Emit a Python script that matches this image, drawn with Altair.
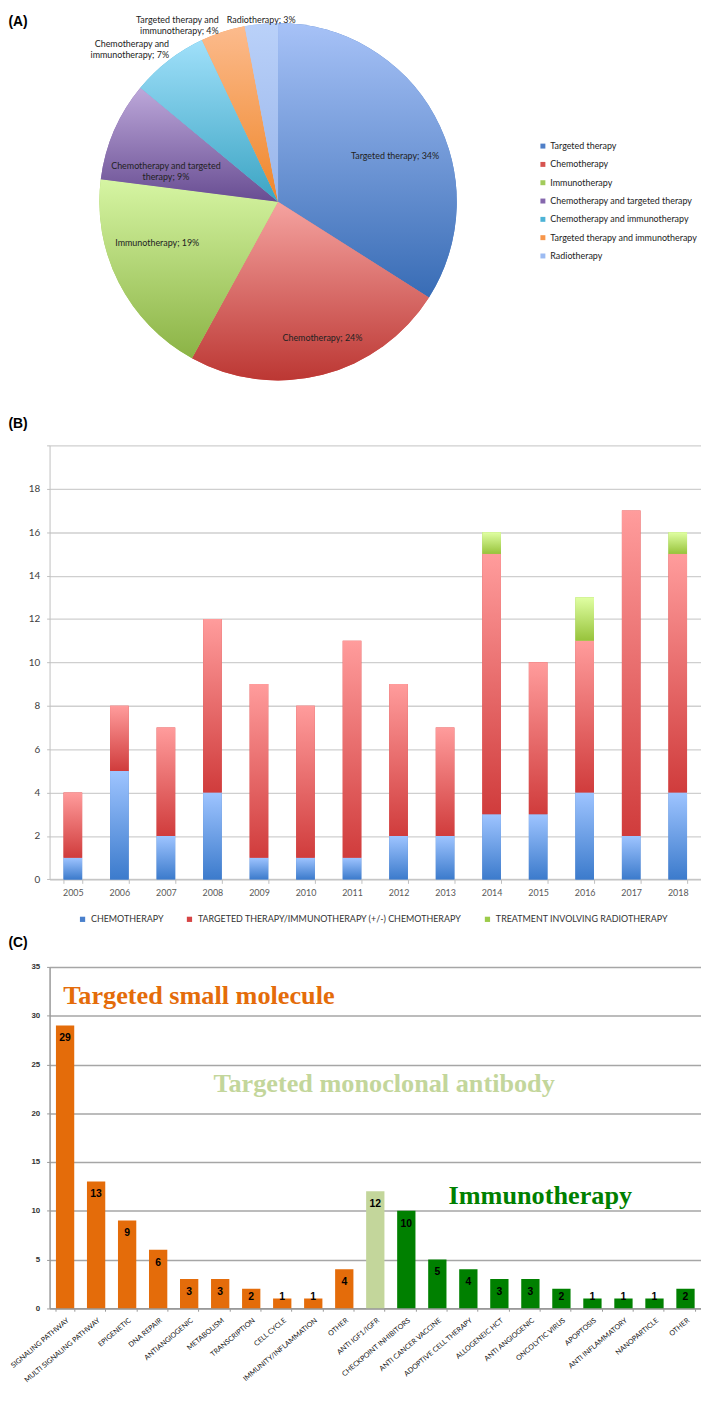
import math
import altair as alt
import pandas as pd

# ======================= DATA =======================
# Panel A: share of treatment types (%)
pie_categories = [
    "Targeted therapy",
    "Chemotherapy",
    "Immunotherapy",
    "Chemotherapy and targeted therapy",
    "Chemotherapy and immunotherapy",
    "Targeted therapy and immunotherapy",
    "Radiotherapy",
]
pie_label_names = [
    "Targeted therapy",
    "Chemotherapy",
    "Immunotherapy",
    "Chemotherapy and targeted\ntherapy",
    "Chemotherapy and\nimmunotherapy",
    "Targeted therapy and\nimmunotherapy",
    "Radiotherapy",
]
pie_percent = [34, 24, 19, 9, 7, 4, 3]

# Panel B: trials per year, by treatment type
years = ["2005", "2006", "2007", "2008", "2009", "2010", "2011",
         "2012", "2013", "2014", "2015", "2016", "2017", "2018"]
chemo_counts = [1, 5, 2, 4, 1, 1, 1, 2, 2, 3, 3, 4, 2, 4]
targeted_counts = [3, 3, 5, 8, 8, 7, 10, 7, 5, 12, 7, 7, 15, 11]
radio_counts = [0, 0, 0, 0, 0, 0, 0, 0, 0, 1, 0, 2, 0, 1]
series_names = [
    "CHEMOTHERAPY",
    "TARGETED THERAPY/IMMUNOTHERAPY (+/-) CHEMOTHERAPY",
    "TREATMENT INVOLVING RADIOTHERAPY",
]

# Panel C: mechanisms of action
mechanisms = [
    "SIGNALING PATHWAY", "MULTI SIGNALING PATHWAY", "EPIGENETIC", "DNA REPAIR",
    "ANTIANGIOGENIC", "METABOLISM", "TRANSCRIPTION", "CELL CYCLE",
    "IMMUNITY/INFLAMMATION", "OTHER", "ANTI IGF1/IGFR", "CHECKPOINT INHIBITORS",
    "ANTI CANCER VACCINE", "ADOPTIVE CELL THERAPY", "ALLOGENEIC HCT",
    "ANTI ANGIOGENIC", "ONCOLYTIC VIRUS", "APOPTOSIS", "ANTI INFLAMMATORY",
    "NANOPARTICLE", "OTHER",
]
mechanism_counts = [29, 13, 9, 6, 3, 3, 2, 1, 1, 4, 12, 10, 5, 4, 3, 3, 2, 1, 1, 1, 2]
group_names = ["Targeted small molecule", "Targeted monoclonal antibody", "Immunotherapy"]
mechanism_groups = [group_names[0]] * 10 + [group_names[1]] + [group_names[2]] * 10

# ======================= STYLE =======================
SANS = "Lato"
ARIAL = "Liberation Sans"
SERIF = "Liberation Serif"
PLOT_W = 658
PANEL_LABEL_X = -41.5


def grad(top, bottom):
    return alt.LinearGradient(
        gradient="linear",
        stops=[alt.GradientStop(color=top, offset=0), alt.GradientStop(color=bottom, offset=1)],
        x1=0, x2=0, y1=0, y2=1,
    )


def panel_label(text, y, baseline):
    return (
        alt.Chart(alt.Data(values=[{"t": text}]))
        .mark_text(align="left", baseline=baseline, font=ARIAL, fontWeight="bold",
                   fontSize=14, color="black")
        .encode(text="t:N", x=alt.value(PANEL_LABEL_X), y=alt.value(y))
    )


# ======================= PANEL A =======================
pie_legend_colors = ["#4F7FC8", "#D65450", "#A2CB5B", "#8567AD", "#4DB3D6", "#F7964A", "#9CBBF2"]
pie_gradients = [
    ("#A7C2F7", "#386CB5"),
    ("#F5A3A0", "#BC3733"),
    ("#D6F5A3", "#8BB345"),
    ("#BDA8DA", "#684D92"),
    ("#A0E0FA", "#3BA4C3"),
    ("#FCBB8D", "#EF8629"),
    ("#BAD1F9", "#98B5EA"),
]
# label placement per slice: (radius, dx, dy, align, baseline)
pie_label_style = [
    (128, 6, 15, "center", "middle"),
    (140, 10, 2, "center", "middle"),
    (128, -8, -16, "center", "middle"),
    (118, -5, 11, "center", "middle"),
    (196, 10, -4, "right", "middle"),
    (191, -1, -6, "right", "top"),
    (187.5, 0.6, -1, "center", "top"),
]

pie_df = pd.DataFrame({
    "category": pie_categories,
    "name": pie_label_names,
    "pct": pie_percent,
    "order": list(range(len(pie_categories))),
})
pie_total = sum(pie_percent)
CX, CY, R = 230.8, 188.7, 180.5

pie_base = alt.Chart(pie_df).transform_window(
    t1="sum(pct)", sort=[alt.SortField("order")]
).transform_calculate(
    t0="datum.t1 - datum.pct",
    tm="datum.t1 - datum.pct / 2",
    label="datum.name + '; ' + datum.pct + '%'",
)
theta_scale = alt.Scale(domain=[0, pie_total], range=[0, 2 * math.pi])
arc_enc = dict(
    theta=alt.Theta("t0:Q", scale=theta_scale, stack=False),
    theta2=alt.Theta2("t1:Q"),
    x=alt.value(CX),
    y=alt.value(CY),
)

pie_layers = [
    pie_base.mark_arc(outerRadius=R).encode(
        color=alt.Color(
            "category:N",
            scale=alt.Scale(domain=pie_categories, range=pie_legend_colors),
            legend=alt.Legend(
                title=None, orient="none", legendX=493.8, legendY=128,
                symbolType="square", symbolSize=25, symbolStrokeWidth=0,
                labelFont=SANS, labelFontSize=9, labelColor="#222",
                rowPadding=8.5, labelOffset=3, labelLimit=300, padding=0,
            ),
        ),
        **arc_enc,
    )
]
for cat, (top, bottom) in zip(pie_categories, pie_gradients):
    pie_layers.append(
        pie_base.transform_filter(alt.datum.category == cat)
        .mark_arc(outerRadius=R, fill=grad(top, bottom))
        .encode(**arc_enc)
    )

txt_theta = alt.Theta("tm:Q", scale=theta_scale, stack=False)
for i, (rad, ddx, ddy, al, bl) in enumerate(pie_label_style):
    pie_layers.append(
        pie_base.transform_filter(alt.datum.order == i)
        .mark_text(align=al, baseline=bl, font=SANS, fontSize=9, color="#222",
                   lineBreak="\n", lineHeight=11, dx=ddx, dy=ddy)
        .encode(theta=txt_theta, radius=alt.value(rad), text="label:N",
                x=alt.value(CX), y=alt.value(CY))
    )
pie_layers.append(panel_label("(A)", 0, "top"))
panel_a = alt.layer(*pie_layers).properties(width=PLOT_W, height=346.5)

# ======================= PANEL B =======================
rows = []
for i, yr in enumerate(years):
    for j, vals in enumerate([chemo_counts, targeted_counts, radio_counts]):
        rows.append({"year": yr, "series": series_names[j], "count": vals[i], "order": j})
b_df = pd.DataFrame(rows)

b_base = alt.Chart(b_df).transform_stack(
    as_=["y0", "y1"], stack="count", groupby=["year"], sort=[alt.SortField("order")]
)
bx = alt.X(
    "year:N", sort=years, title=None,
    scale=alt.Scale(paddingInner=0.6, paddingOuter=0.3),
    axis=alt.Axis(labelAngle=0, labelFont=SANS, labelFontSize=9, labelColor="#595959",
                  labelPadding=5, ticks=True, tickBand="extent", tickSize=4,
                  tickColor="#BFBFBF", domainColor="#BFBFBF", grid=False),
)
by = alt.Y(
    "y0:Q", title=None, scale=alt.Scale(domain=[0, 20], nice=False),
    axis=alt.Axis(values=list(range(0, 21, 2)),
                  labelExpr="datum.value == 20 ? '' : datum.label",
                  grid=True, gridColor="#CFCFCF", gridWidth=1.3,
                  domainColor="#BFBFBF", tickColor="#BFBFBF", tickSize=3,
                  labelPadding=7, labelFont=SANS, labelFontSize=10, labelColor="#404040"),
)
b_legend_colors = ["#4A80CC", "#D64545", "#9CCB4A"]
b_gradients = [("#9EC4FF", "#3C7BCC"), ("#FF9C9C", "#D03C3C"), ("#E0FFA3", "#97C33B")]

b_layers = [
    b_base.mark_bar().encode(
        x=bx, y=by, y2=alt.Y2("y1:Q"),
        color=alt.Color(
            "series:N",
            scale=alt.Scale(domain=series_names, range=b_legend_colors),
            legend=alt.Legend(
                title=None, orient="none", direction="horizontal",
                legendX=28.8, legendY=474, symbolType="square", symbolSize=28,
                symbolStrokeWidth=0, labelFont=SANS, labelFontSize=9,
                labelColor="#333", labelOffset=4, columnPadding=21,
                labelLimit=400, padding=0,
            ),
        ),
    )
]
for s, (top, bottom) in zip(series_names, b_gradients):
    b_layers.append(
        b_base.transform_filter(alt.datum.series == s)
        .mark_bar(fill=grad(top, bottom))
        .encode(x=bx, y=by, y2=alt.Y2("y1:Q"))
    )
b_layers.append(panel_label("(B)", -21.5, "middle"))

panel_b = alt.layer(*b_layers).properties(width=PLOT_W, height=438.4)

# ======================= PANEL C =======================
c_keys = [f"{m}|{i}" for i, m in enumerate(mechanisms)]
c_df = pd.DataFrame({"key": c_keys, "count": mechanism_counts, "group": mechanism_groups})
group_colors = ["#E46C0A", "#C3D69B", "#008000"]

cx = alt.X(
    "key:N", sort=c_keys, title=None,
    scale=alt.Scale(paddingInner=0.41, paddingOuter=0.205),
    axis=alt.Axis(labelAngle=-40, labelExpr="split(datum.label, '|')[0]",
                  labelFont=SANS, labelFontSize=7.2, labelColor="#111", labelPadding=5,
                  tickBand="extent", tickSize=3, tickColor="#999", domainColor="#999",
                  domainWidth=1.5, grid=False, labelLimit=300),
)
cy = alt.Y(
    "count:Q", title=None, scale=alt.Scale(domain=[0, 35], nice=False),
    axis=alt.Axis(values=list(range(0, 36, 5)), grid=True, gridColor="#A6A6A6",
                  gridWidth=1.5, domainColor="#999", domainWidth=1.5, tickColor="#999",
                  tickSize=3, labelPadding=7, labelFont=ARIAL, labelFontWeight="bold",
                  labelFontSize=8, labelColor="#333"),
)

c_bars = alt.Chart(c_df).mark_bar().encode(
    x=cx, y=cy,
    color=alt.Color("group:N", scale=alt.Scale(domain=group_names, range=group_colors), legend=None),
)
c_labels = alt.Chart(c_df).transform_calculate(
    ly="max(datum.count, 2.5)"
).mark_text(dy=13, baseline="middle", font=ARIAL, fontWeight="bold", fontSize=10.5,
            color="black").encode(x=cx, y=alt.Y("ly:Q"), text="count:Q")

ann_kw = dict(align="left", baseline="middle", font=SERIF, fontWeight="bold", fontSize=26.5)
ann_positions = [(13.8, 32), (165.5, 23), (403, 11.5)]
c_ann = [
    alt.Chart(alt.Data(values=[{}]))
    .mark_text(text=name, color=col, **ann_kw)
    .encode(x=alt.value(px), y=alt.YDatum(val))
    for name, col, (px, val) in zip(group_names, group_colors, ann_positions)
]

panel_c = alt.layer(c_bars, c_labels, *c_ann, panel_label("(C)", -24.5, "middle")).properties(
    width=PLOT_W, height=344.8
)

# ======================= ASSEMBLE =======================
chart = (
    alt.vconcat(panel_a, panel_b, panel_c, spacing=87.8, bounds="flush")
    .resolve_scale(color="independent", x="independent", y="independent")
    .properties(padding=0)
    .configure_view(strokeWidth=0)
)

chart.save("out.html", embed_options={"renderer": "svg", "actions": False})
